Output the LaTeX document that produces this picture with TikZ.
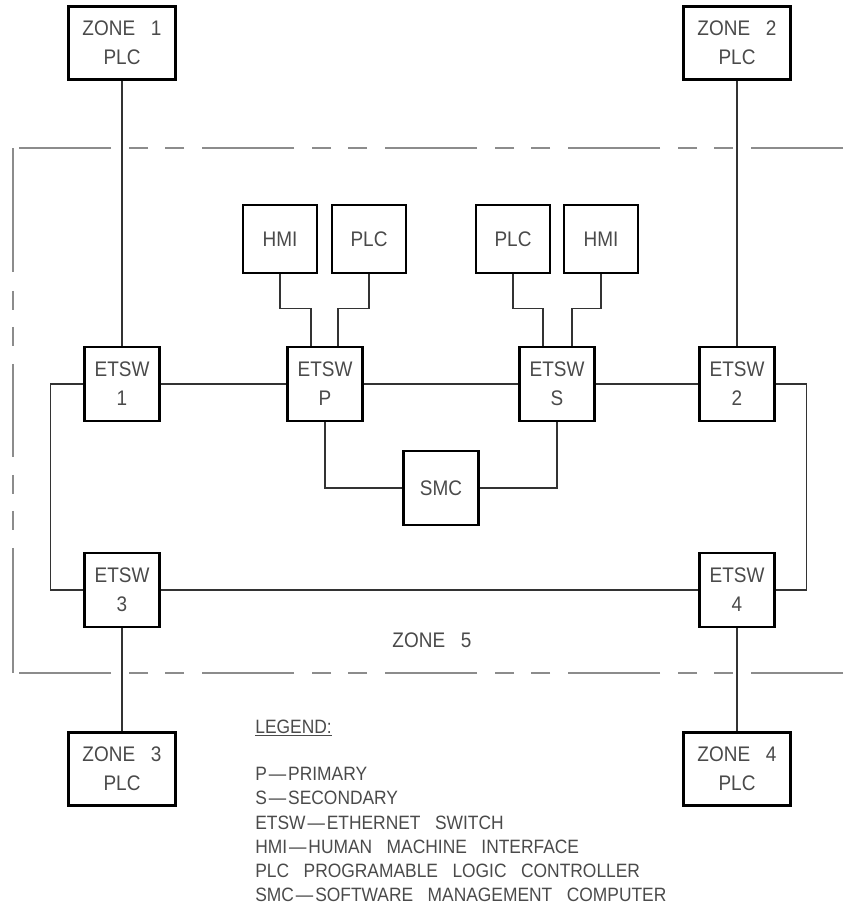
\documentclass[tikz,border=0pt]{standalone}
\usepackage{fontspec}
\setmainfont{Liberation Sans}[FakeStretch=0.9]

\definecolor{inkgray}{HTML}{4A4A4A}
\definecolor{wiregray}{HTML}{333333}
\definecolor{bordergray}{HTML}{8C8C8C}

\newcommand\boxfont{\fontsize{12}{16.5}\selectfont\spaceskip=.75em\relax}
\newcommand\legendfont{\fontsize{11}{13.8}\selectfont\spaceskip=.75em\relax}
\newcommand\ldash{\kern.1em---\kern.1em}

\tikzset{
    unit/.style={draw=black, line width=1.3pt, text=inkgray, align=center, inner sep=0pt, font=\boxfont},
    zonebox/.style={unit, minimum width=2.14cm, minimum height=1.46cm},
    devbox/.style={unit, minimum width=1.48cm, minimum height=1.36cm},
    swbox/.style={unit, minimum width=1.5cm, minimum height=1.48cm},
    link/.style={draw=wiregray, line width=.6pt},
    phantom/.style={draw=bordergray, line width=.8pt,
        dash pattern=on 1.84cm off .36cm on .38cm off .34cm on .38cm off .36cm},
}

\begin{document}
\begin{tikzpicture}[x=0.02cm, y=-0.02cm]
    \useasboundingbox (0,0) rectangle (843,909);

    % zone 5 boundary
    \draw[phantom] (843,148) -- (13,148);
    \draw[phantom, dash pattern=on 2.48cm off .38cm on .38cm off .34cm on .38cm off .36cm
        on 1.86cm off .36cm on .38cm off .34cm on .38cm off .36cm on 3cm] (13,148) -- (13,673);
    \draw[phantom] (843,673) -- (13,673);

    % zone controllers
    \node[zonebox] (z1) at (122,43) {ZONE 1\\PLC};
    \node[zonebox] (z2) at (737,43) {ZONE 2\\PLC};
    \node[zonebox] (z3) at (122,769) {ZONE 3\\PLC};
    \node[zonebox] (z4) at (737,769) {ZONE 4\\PLC};

    % switches
    \node[swbox] (sw1) at (122,384) {ETSW\\1};
    \node[swbox] (swp) at (325,384) {ETSW\\P};
    \node[swbox] (sws) at (557,384) {ETSW\\S};
    \node[swbox] (sw2) at (737,384) {ETSW\\2};
    \node[swbox] (sw3) at (122,590) {ETSW\\3};
    \node[swbox] (sw4) at (737,590) {ETSW\\4};

    % local devices
    \node[devbox] (hmip) at (280,239) {HMI};
    \node[devbox] (plcp) at (369,239) {PLC};
    \node[devbox] (plcs) at (513,239) {PLC};
    \node[devbox] (hmis) at (601,239) {HMI};
    \node[swbox] (smc) at (441,488) {SMC};

    \draw[link] (z1) -- (sw1);
    \draw[link] (z2) -- (sw2);
    \draw[link] (sw3) -- (z3);
    \draw[link] (sw4) -- (z4);
    \draw[link] (sw1) -- (swp) -- (sws) -- (sw2);
    \draw[link] (sw3) -- (sw4);
    \draw[link] (sw1.west) -- ++(-33,0) |- (sw3.west);
    \draw[link] (sw2.east) -- ++(31,0) |- (sw4.east);

    \draw[link] (hmip.south) -- ++(0,34) -| ([xshift=-.28cm]swp.north);
    \draw[link] (plcp.south) -- ++(0,34) -| ([xshift=.26cm]swp.north);
    \draw[link] (plcs.south) -- ++(0,34) -| ([xshift=-.28cm]sws.north);
    \draw[link] (hmis.south) -- ++(0,34) -| ([xshift=.3cm]sws.north);
    \draw[link] (swp.south) |- (smc.west);
    \draw[link] (sws.south) |- (smc.east);

    \node[text=inkgray, font=\boxfont] (zone5) at (432,640) {ZONE 5};

    % legend
    \node[text=inkgray, font=\legendfont, anchor=base west, inner sep=0pt] (legendtitle) at (255,733) {\underline{LEGEND:}};
    \node[text=inkgray, font=\legendfont, anchor=north west, align=left, inner sep=0pt] (legend) at (255,767)
        {P\ldash PRIMARY\\S\ldash SECONDARY\\ETSW\ldash ETHERNET SWITCH\\HMI\ldash HUMAN MACHINE INTERFACE\\PLC PROGRAMABLE LOGIC CONTROLLER\\SMC\ldash SOFTWARE MANAGEMENT COMPUTER};
\end{tikzpicture}
\end{document}
